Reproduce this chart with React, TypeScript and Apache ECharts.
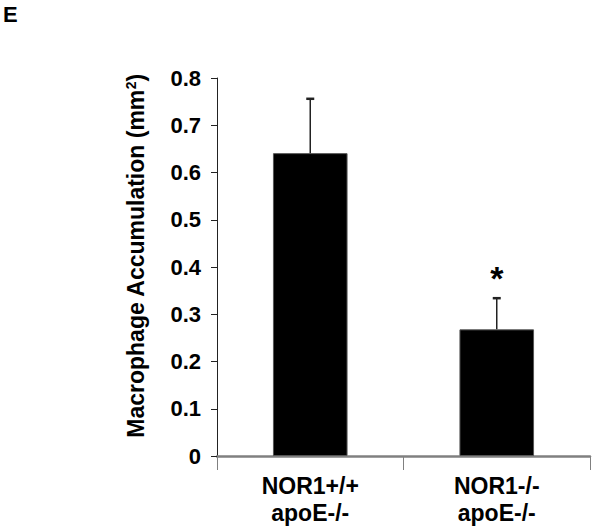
import React, { useEffect, useRef } from "react";
import * as echarts from "echarts";

const categories = ["NOR1+/+\napoE-/-", "NOR1-/-\napoE-/-"];
const means = [0.641, 0.268];
const errors = [0.115, 0.066];
const significance = ["", "*"];
const yTicks = { min: 0, max: 0.8, interval: 0.1 };
const panelLabel = "E";

const FONT = "Arial, 'Liberation Sans', sans-serif";

export default function App() {
  const ref = useRef<HTMLDivElement>(null);
  useEffect(() => {
    if (!ref.current) return;
    const chart = echarts.init(ref.current, null, { renderer: "svg" });
    const option: any = {
      animation: false,
      backgroundColor: "#ffffff",
      grid: { left: 217, right: 10, top: 78, bottom: 71, containLabel: false },
      title: {
        text: panelLabel,
        left: 0,
        top: 0,
        padding: [3, 3, 3, 3],
        textStyle: {
          fontSize: 22,
          fontWeight: "bold",
          fontFamily: FONT,
          color: "#000",
        },
      },
      xAxis: {
        type: "category",
        data: categories,
        axisLine: { lineStyle: { color: "#808080", width: 2.5 } },
        axisTick: { show: true, length: 14, lineStyle: { color: "#808080", width: 1 } },
        axisLabel: {
          interval: 0,
          margin: 16,
          color: "#000",
          fontFamily: FONT,
          fontWeight: "bold",
          fontSize: 23,
          lineHeight: 27,
        },
      },
      yAxis: {
        type: "value",
        min: yTicks.min,
        max: yTicks.max,
        interval: yTicks.interval,
        name: "{a|Macrophage Accumulation (mm}{s|2}{a|)}",
        nameLocation: "middle",
        nameGap: 69,
        nameRotate: 90,
        nameTextStyle: {
          padding: [0, 0, 0, 22],
          rich: {
            a: { fontFamily: FONT, fontWeight: "bold", fontSize: 23, color: "#000" },
            s: {
              fontFamily: FONT,
              fontWeight: "bold",
              fontSize: 14,
              color: "#000",
              verticalAlign: "top",
              padding: [0, 0, 10, 0],
            },
          },
        },
        splitLine: { show: false },
        axisLine: { show: true, lineStyle: { color: "#222", width: 1 } },
        axisTick: { show: true, inside: false, length: 6, lineStyle: { color: "#222" } },
        axisLabel: {
          margin: 16,
          color: "#000",
          fontFamily: FONT,
          fontWeight: "bold",
          fontSize: 22,
          formatter: (v: number) => (v === 0 ? "0" : v.toFixed(1)),
        },
      },
      series: [
        {
          type: "bar",
          data: means,
          barCategoryGap: "60%",
          itemStyle: { color: "#000", borderColor: "#555", borderWidth: 1 },
        },
        {
          type: "custom",
          data: categories.map((_, i) => [i, means[i], errors[i]]),
          encode: { x: 0, y: 1 },
          z: 5,
          renderItem: (params: any, api: any) => {
            const i = api.value(0);
            const v = api.value(1);
            const e = api.value(2);
            const base = api.coord([i, v]);
            const top = api.coord([i, v + e]);
            const children: any[] = [
              {
                type: "line",
                shape: { x1: base[0], y1: base[1], x2: top[0], y2: top[1] },
                style: { stroke: "#222", lineWidth: 1.5 },
              },
              {
                type: "line",
                shape: { x1: top[0] - 4, y1: top[1], x2: top[0] + 4, y2: top[1] },
                style: { stroke: "#222", lineWidth: 2.5 },
              },
            ];
            if (significance[i]) {
              children.push({
                type: "text",
                x: top[0],
                y: top[1] - 20,
                style: {
                  text: significance[i],
                  fontSize: 34,
                  fontWeight: "bold",
                  fontFamily: FONT,
                  fill: "#000",
                  align: "center",
                  verticalAlign: "middle",
                },
              });
            }
            return { type: "group", children };
          },
        },
      ],
    };
    chart.setOption(option);
    return () => chart.dispose();
  }, []);
  return (
    <div
      ref={ref}
      style={{ position: "absolute", left: 0, top: 0, width: 600, height: 527 }}
    />
  );
}
